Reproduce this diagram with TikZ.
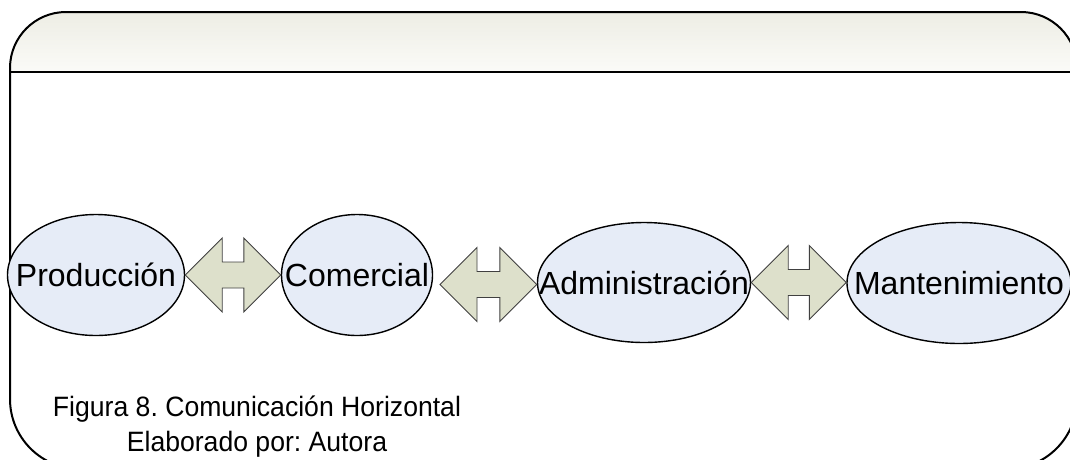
\documentclass[tikz,border=0pt]{standalone}
\usepackage{fontspec}
\setmainfont{Liberation Sans}
\frenchspacing
\usetikzlibrary{shapes.geometric,calc}

\definecolor{ovalfill}{HTML}{E6ECF7}
\definecolor{arrowfill}{HTML}{DDE0CB}
\definecolor{arrowline}{HTML}{404040}
\definecolor{bandtop}{HTML}{EDEDE4}
\definecolor{bandbot}{HTML}{FBFBF8}

\tikzset{
  dept/.style={ellipse, draw=black, line width=1.4pt, fill=ovalfill, inner sep=0pt},
  depttext/.style={inner sep=0pt, text height=23pt, text depth=0pt,
    font=\fontsize{32}{38}\selectfont},
  twoway/.style={draw=arrowline, line width=0.9pt, fill=arrowfill, line join=miter},
  frameline/.style={draw=black, line width=2pt},
  captext/.style={font=\fontsize{28}{34}\selectfont, inner sep=0pt, anchor=base, xscale=0.95},
}

% horizontal two-headed block arrow between two tip points
\newcommand{\twowayarrow}[2]{%
  \path[twoway] let \p1=(#1), \p2=(#2) in
    (\x1,\y1) -- (\x1+37pt,\y1+37pt) -- (\x1+37pt,\y1+13pt) -- (\x2-37pt,\y1+13pt)
    -- (\x2-37pt,\y1+37pt) -- (\x2,\y1) -- (\x2-37pt,\y1-37pt) -- (\x2-37pt,\y1-13pt)
    -- (\x1+37pt,\y1-13pt) -- (\x1+37pt,\y1-37pt) -- cycle;}

\begin{document}
\begin{tikzpicture}[x=1pt,y=-1pt]
\useasboundingbox (0,0) rectangle (1070,459);
\clip (0,0) rectangle (1070,459);

% title band of the panel
\shade[top color=bandtop, bottom color=bandbot]
  (10,72) -- (10,68) arc[start angle=180, end angle=270, radius=56]
  -- (1021,12) arc[start angle=270, end angle=360, radius=56]
  -- (1077,72) -- cycle;

% panel outline
\path[frameline]
  (10,399) -- (10,68) arc[start angle=180, end angle=270, radius=56]
  -- (1021,12) arc[start angle=270, end angle=360, radius=56]
  -- (1077,399) arc[start angle=0, end angle=90, radius=70]
  -- (80,469) arc[start angle=90, end angle=180, radius=70] -- cycle;
\path[frameline] (10,72) -- (1077,72);

% departments
\node[dept, minimum width=177, minimum height=121,
  label={[depttext]center:Producción}] (prod) at (96,275) {};
\node[dept, minimum width=151, minimum height=121,
  label={[depttext]center:Comercial}] (com) at (357,275) {};
\node[dept, minimum width=213, minimum height=120,
  label={[depttext]center:Administración}] (adm) at (644,282.5) {};
\node[dept, minimum width=224, minimum height=121,
  label={[depttext]center:Mantenimiento}] (man) at (959,283) {};

% two-way communication arrows
\coordinate (t2) at (440,284.5);
\twowayarrow{prod.east}{com.west}
\twowayarrow{t2}{adm.west}
\twowayarrow{adm.east}{man.west}

% caption
\node[captext] (cap1) at (257,416) {Figura 8. Comunicación Horizontal};
\node[captext] (cap2) at (257,451) {Elaborado por: Autora};
\end{tikzpicture}
\end{document}
